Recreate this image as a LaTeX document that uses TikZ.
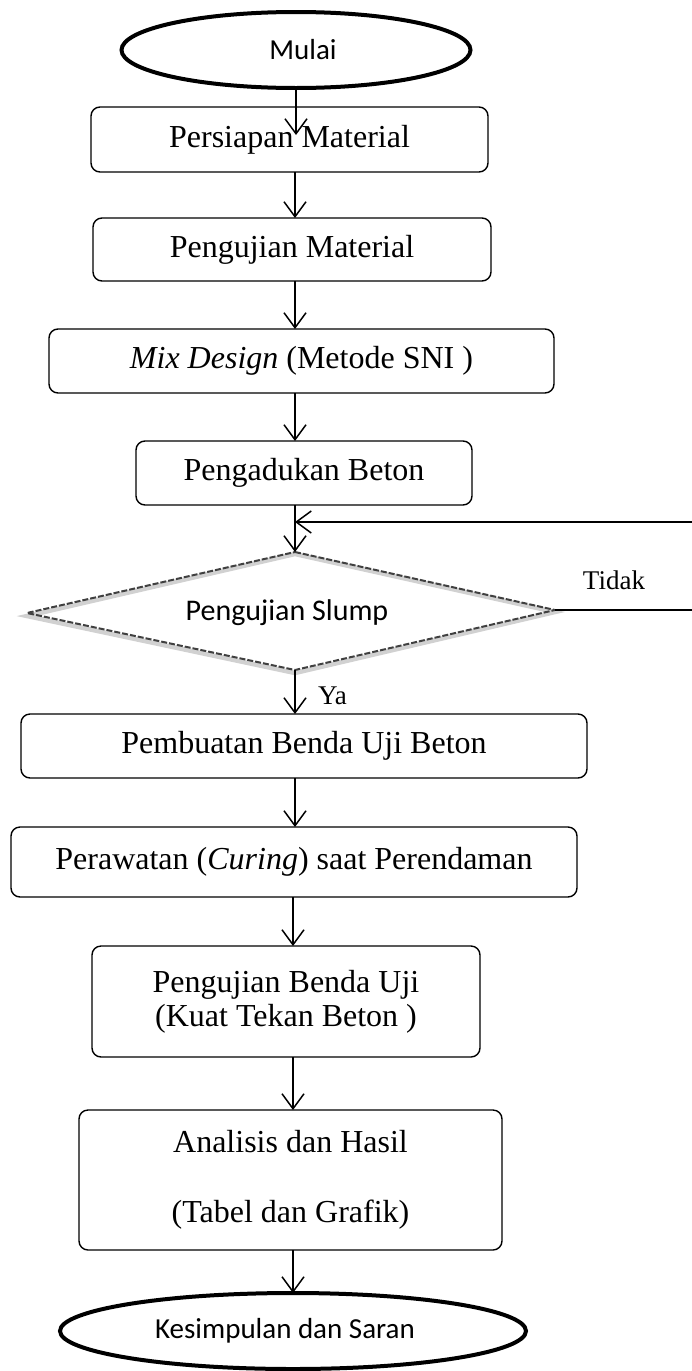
\documentclass[tikz,border=0pt]{standalone}
\usepackage{fontspec}
\setmainfont{Liberation Serif}
\newfontfamily\calibri{Carlito}
\usetikzlibrary{arrows.meta,shapes.geometric}
\begin{document}
\begin{tikzpicture}[x=1pt,y=-1pt,
  box/.style={draw, line width=1.4pt, rounded corners=9pt, inner sep=0pt, outer sep=0pt,
    align=center, font=\fontsize{32}{34}\selectfont},
  term/.style={draw, ellipse, line width=4pt, inner sep=0pt, outer sep=0pt,
    font=\calibri\fontsize{29}{34}\selectfont},
  decisionblur/.style={draw=black!18, line width=4.5pt, line join=miter},
  decisionline/.style={draw=black!75, line width=2pt, dash pattern=on 6pt off 2pt, line join=miter},
  lbl/.style={inner sep=0pt, font=\fontsize{27}{30}\selectfont},
  arr/.style={line width=1.5pt, -{Straight Barb[length=15pt,width=22pt]}},
  ln/.style={line width=1.5pt}
]
\useasboundingbox (0,0) rectangle (691,1371);

% nodes
\node[term, minimum width=349pt, minimum height=76pt] (mulai) at (296,50) {\hspace*{14pt}\raisebox{-7pt}{Mulai}};
\node[box, minimum width=397pt, minimum height=65pt] (b1) at (289.5,139.5) {Persiapan Material};
\node[box, minimum width=398pt, minimum height=63pt] (b2) at (292,249.5) {Pengujian Material};
\node[box, minimum width=505pt, minimum height=64pt] (b3) at (301.5,361) {\textit{Mix Design} (Metode SNI )};
\node[box, minimum width=336pt, minimum height=64pt] (b4) at (304,473) {Pengadukan Beton};

% decision diamond
\coordinate (dt) at (295,552);
\coordinate (dr) at (555,610);
\coordinate (db) at (295,670);
\coordinate (dl) at (27,613);
\draw[decisionblur] ([yshift=-2pt]dt) -- ([yshift=-2pt]dr) -- ([yshift=-3pt]db) -- ([yshift=-3pt]dl) -- cycle;
\draw[decisionline] (dt) -- (dr) -- (db) -- (dl) -- cycle;
\node[inner sep=0pt, font=\calibri\fontsize{30}{34}\selectfont] (d) at (287,613) {Pengujian Slump};

\node[box, minimum width=566pt, minimum height=64pt] (b5) at (304,746) {Pembuatan Benda Uji Beton};
\node[box, minimum width=566pt, minimum height=70pt] (b6) at (294,862) {Perawatan (\textit{Curing}) saat Perendaman};
\node[box, minimum width=388pt, minimum height=111pt] (b7) at (286,1001.5) {Pengujian Benda Uji\\(Kuat Tekan Beton )};
\node[box, minimum width=423pt, minimum height=140pt, font=\fontsize{32}{70}\selectfont] (b8) at (290.5,1180) {Analisis dan Hasil\\(Tabel dan Grafik)};
\node[term, minimum width=466pt, minimum height=76pt] (selesai) at (293,1331) {\hspace*{-16pt}\raisebox{-2pt}{Kesimpulan dan Saran}};

\node[lbl] (tidak) at (614,580) {Tidak};
\node[lbl, anchor=west] (ya) at (318,696) {Ya};

% axis coordinates for the vertical connectors
\coordinate (ax) at (295,0);
\coordinate (axb) at (293,0);
\coordinate (t1) at (296,135);
\coordinate (r1) at (695,0);
\coordinate (fb) at (295,522);

% connectors
\draw[arr] (mulai.south) -- (t1);
\draw[arr] (b1.south -| ax) -- (b2.north -| ax);
\draw[arr] (b2.south -| ax) -- (b3.north -| ax);
\draw[arr] (b3.south -| ax) -- (b4.north -| ax);
\draw[arr] (b4.south -| ax) -- (dt);
\draw[arr] (db) -- (b5.north -| ax);
\draw[arr] (b5.south -| ax) -- (b6.north -| ax);
\draw[arr] (b6.south -| axb) -- (b7.north -| axb);
\draw[arr] (b7.south -| axb) -- (b8.north -| axb);
\draw[arr] (b8.south -| axb) -- (selesai.north -| axb);

% feedback loop (Tidak)
\draw[ln] (dr) -- (dr -| r1) -- (fb -| r1);
\draw[arr] (fb -| r1) -- (fb);
\end{tikzpicture}
\end{document}
